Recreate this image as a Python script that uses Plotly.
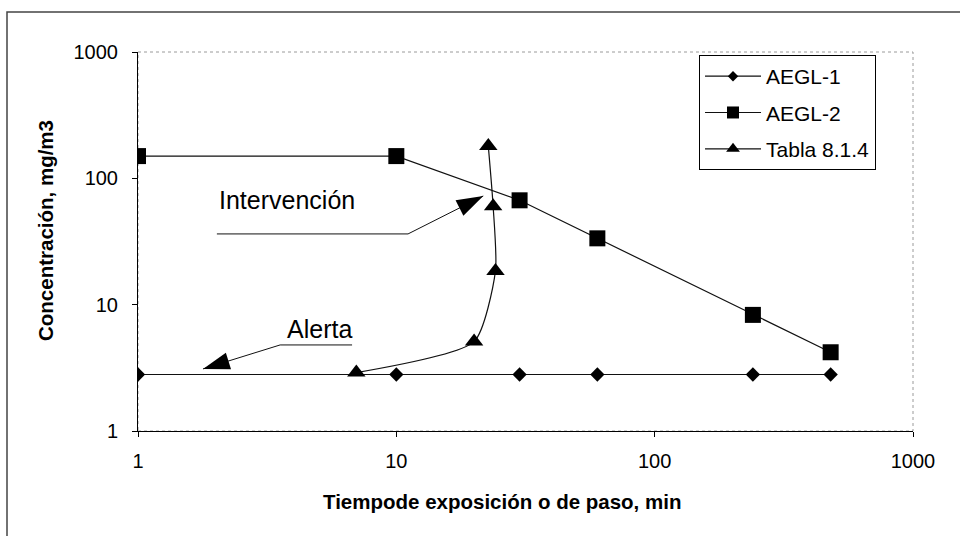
import numpy as np
import plotly.graph_objects as go

# Exposure times (min) and concentration levels (mg/m3)
time_aegl = [1, 10, 30, 60, 240, 480]
aegl1 = [2.8, 2.8, 2.8, 2.8, 2.8, 2.8]
aegl2 = [150, 150, 67, 33.5, 8.3, 4.2]

time_tabla = [7, 20, 24.2, 23.7, 22.7]
tabla = [2.9, 5.1, 18.5, 60, 180]

tick_vals = [1, 10, 100, 1000]
tick_text = ["1", "10", "100", "1000"]

# Leader lines for the zone labels (start, bend, arrow tip)
interv_x = [2.02, 11.1, 21.7]
interv_y = [36.3, 36.3, 72.5]
alerta_x = [6.74, 3.55, 1.785]
alerta_y = [4.8, 4.8, 3.1]

# Label anchor points
interv_label = (3.77, 67.4)
alerta_label = (5.02, 6.42)

FONT = "Liberation Sans, Arial, sans-serif"
INK = "#111111"

series = [
    ("AEGL-1", time_aegl, aegl1, "diamond", 11, 8, dict()),
    ("AEGL-2", time_aegl, aegl2, "square", 16, 12, dict()),
    ("Tabla 8.1.4", time_tabla, tabla, "triangle-up", 16, 12,
     dict(shape="spline", smoothing=0.6)),
]

fig = go.Figure()

for name, xs, ys, sym, size, _, extra in series:
    fig.add_trace(go.Scatter(
        x=xs, y=ys, name=name, mode="lines+markers", showlegend=False,
        line=dict(color=INK, width=1.2, **extra),
        marker=dict(symbol=sym, size=size, color="black", opacity=1),
    ))

# Legend entries with smaller key symbols
for i, (name, _, _, sym, _, key_size, _) in enumerate(series):
    fig.add_trace(go.Scatter(
        x=[None], y=[None], name=name, mode="lines+markers",
        line=dict(color=INK, width=1.2),
        marker=dict(symbol=sym, size=key_size, color="black"),
        legendgroup=f"g{i}",
    ))

# Leader lines with arrowheads
for lx, ly in ((interv_x, interv_y), (alerta_x, alerta_y)):
    fig.add_trace(go.Scatter(
        x=lx, y=ly, mode="lines+markers", showlegend=False, hoverinfo="skip",
        line=dict(color=INK, width=1),
        marker=dict(symbol="arrow", size=[0, 0, 28], angleref="previous",
                    color="#000000", opacity=1, line=dict(width=0, color="#000000")),
    ))

axis_common = dict(
    type="log", range=[0, 3], tickvals=tick_vals, ticktext=tick_text,
    showline=True, linecolor="black", linewidth=1,
    ticks="outside", ticklen=5, tickcolor="black", tickwidth=1,
    showgrid=False, zeroline=False,
    tickfont=dict(family=FONT, size=20, color="black"),
)

fig.update_layout(
    width=960, height=536, autosize=False,
    margin=dict(l=138, r=47, t=52, b=105),
    paper_bgcolor="white", plot_bgcolor="white",
    font=dict(family=FONT, color="black"),
    xaxis=dict(**axis_common, ticklabelstandoff=7),
    yaxis=dict(**axis_common, ticklabelstandoff=10),
    showlegend=True,
    legend=dict(
        x=0.7239, y=0.992, xanchor="left", yanchor="top",
        bordercolor="black", borderwidth=1, bgcolor="white",
        font=dict(family=FONT, size=21, color="black"),
        itemwidth=56, tracegroupgap=6,
    ),
    shapes=[
        # dotted plot-area frame
        dict(type="rect", xref="paper", yref="paper", x0=0, y0=0, x1=1, y1=1,
             line=dict(color="#9a9a9a", width=1, dash="dot"), layer="below"),
        # outer chart frame
        dict(type="rect", xref="paper", yref="paper",
             x0=-131 / 775, x1=824 / 775, y0=-114 / 379, y1=419 / 379,
             line=dict(color="#444444", width=1.5), layer="below"),
    ],
    annotations=[
        dict(text="Concentración, mg/m3", xref="paper", yref="paper",
             x=-0.12, y=0.5277, textangle=-90, showarrow=False,
             font=dict(family=FONT, size=20.5, color="black", weight="bold"),
             xanchor="center", yanchor="middle"),
        dict(text="Tiempode exposición o de paso, min", xref="paper", yref="paper",
             x=0.4697, y=-0.1847, showarrow=False,
             font=dict(family=FONT, size=20.5, color="black", weight="bold"),
             xanchor="center", yanchor="middle"),
        dict(text="Intervención", x=np.log10(interv_label[0]), y=np.log10(interv_label[1]),
             showarrow=False, font=dict(family=FONT, size=25, color="black"),
             xanchor="center", yanchor="middle"),
        dict(text="Alerta", x=np.log10(alerta_label[0]), y=np.log10(alerta_label[1]),
             showarrow=False, font=dict(family=FONT, size=25, color="black"),
             xanchor="center", yanchor="middle"),
    ],
)

fig.write_html("out.html")
